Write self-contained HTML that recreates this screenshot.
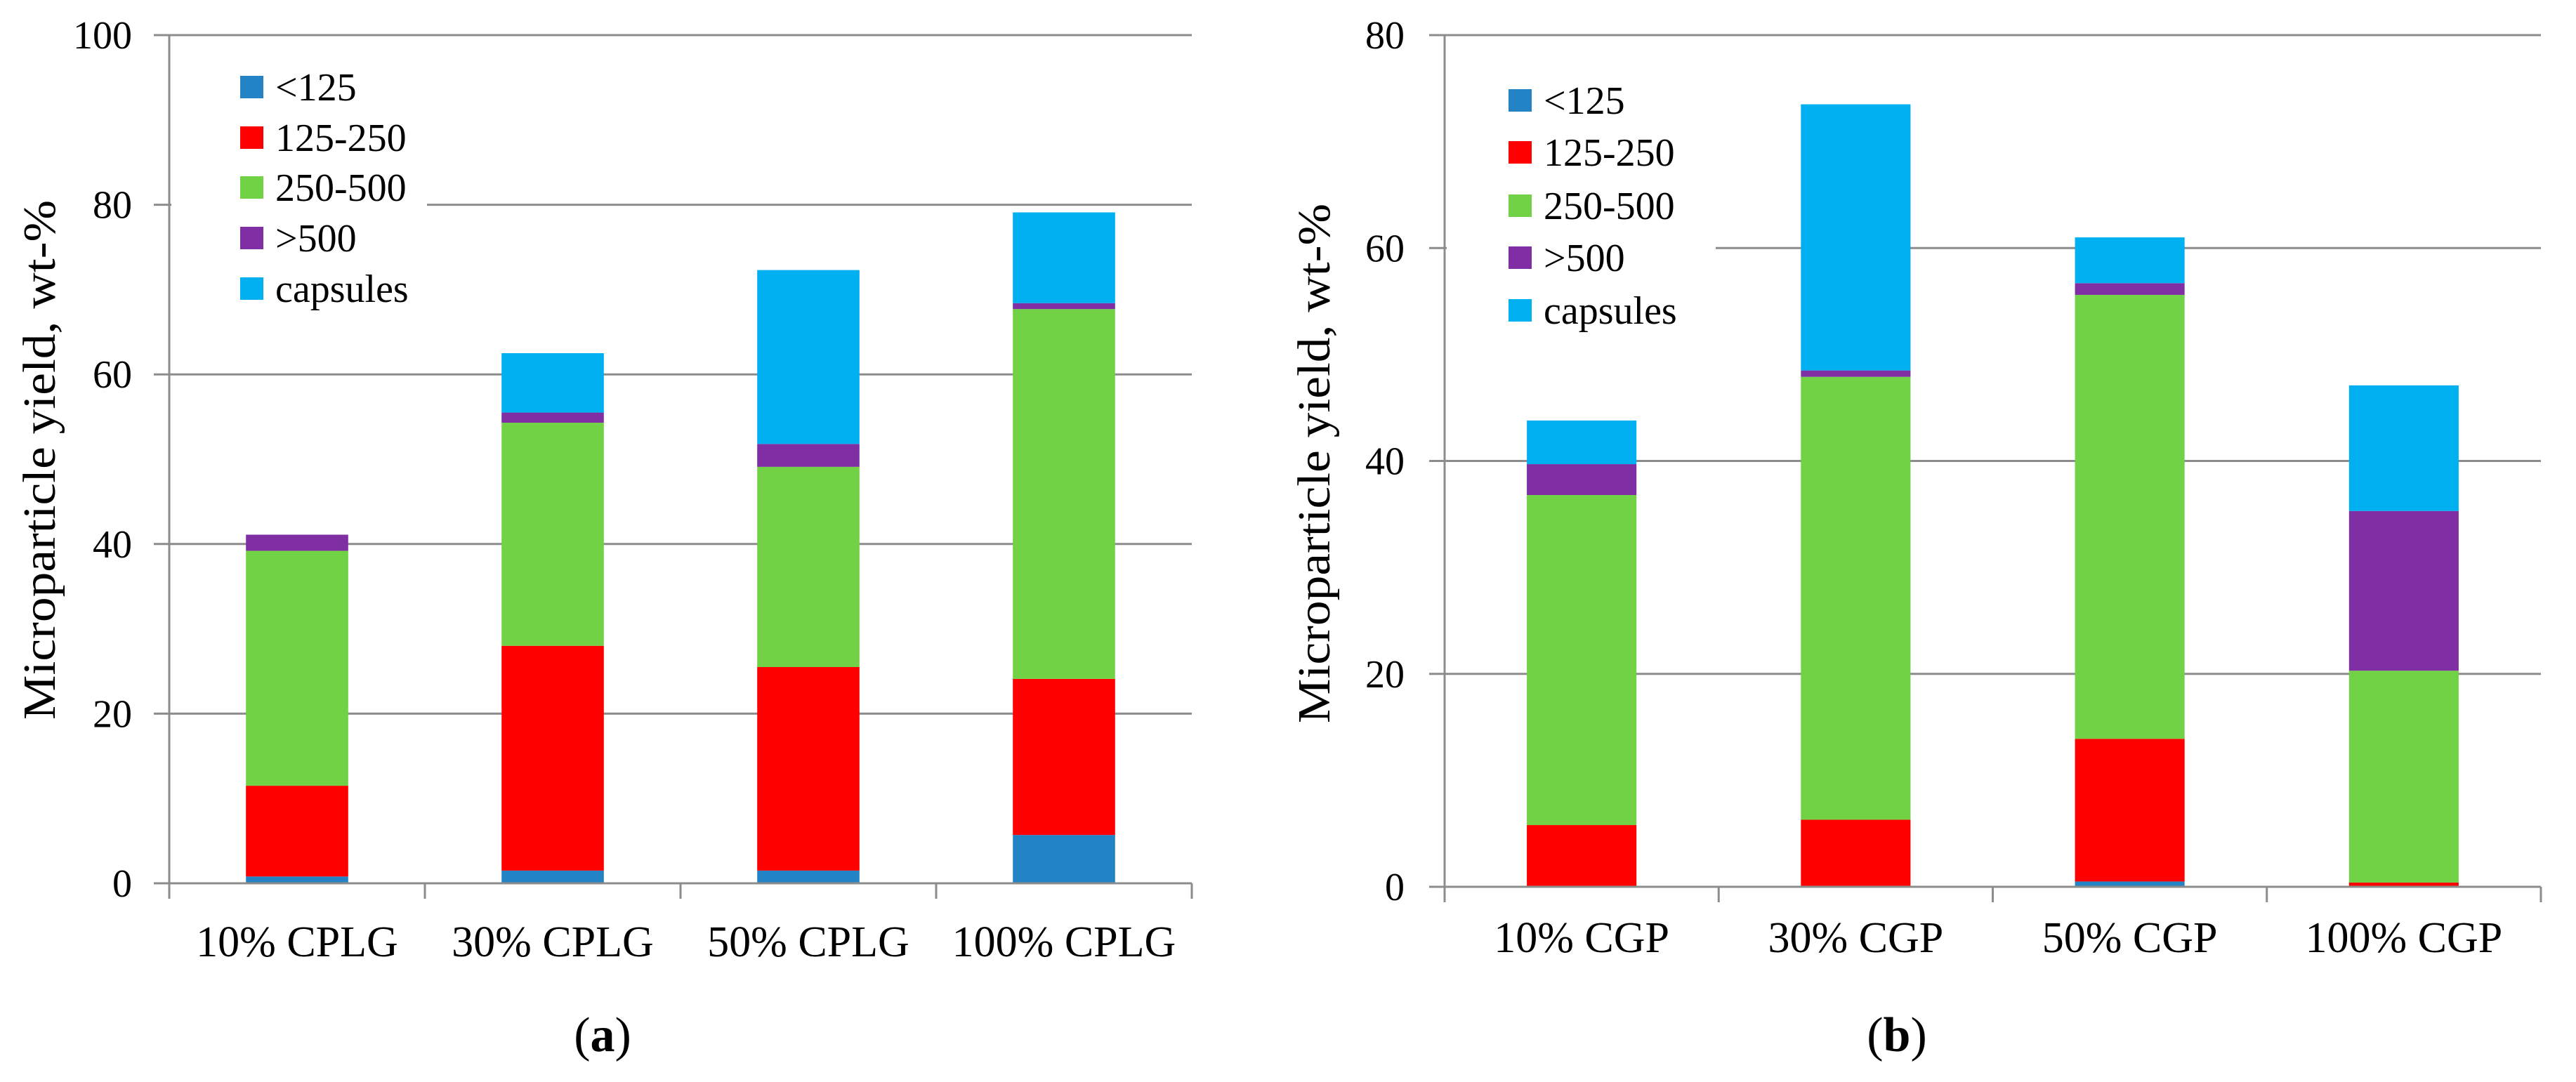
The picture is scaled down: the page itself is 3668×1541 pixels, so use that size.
<!DOCTYPE html>
<html><head><meta charset="utf-8"><style>
html,body{margin:0;padding:0;background:#fff;}
svg{display:block;}
svg text{font-family:"Liberation Serif","DejaVu Serif",serif;fill:#000;}
</style></head><body>
<svg id="fig" width="3668" height="1541" viewBox="0 0 3668 1541" xmlns="http://www.w3.org/2000/svg" font-family="'Liberation Serif', 'DejaVu Serif', serif"></svg>
<script>
const seriesNames = ["<125", "125-250", "250-500", ">500", "capsules"];
const seriesColors = ["#2383c4", "#ff0000", "#70d244", "#7f2fa3", "#00b0f0"];
const catsA = ["10% CPLG", "30% CPLG", "50% CPLG", "100% CPLG"];
const lt125A = [0.8, 1.5, 1.5, 5.7];
const s125A = [10.7, 26.5, 24.0, 18.4];
const s250A = [27.7, 26.3, 23.6, 43.6];
const gt500A = [1.9, 1.2, 2.7, 0.7];
const capsA = [0, 7.0, 20.5, 10.7];
const ticksA = [0, 20, 40, 60, 80, 100];
const catsB = ["10% CGP", "30% CGP", "50% CGP", "100% CGP"];
const lt125B = [0, 0, 0.5, 0];
const s125B = [5.8, 6.3, 13.4, 0.4];
const s250B = [31.0, 41.6, 41.7, 19.9];
const gt500B = [2.9, 0.6, 1.1, 15.0];
const capsB = [4.1, 25.0, 4.3, 11.8];
const ticksB = [0, 20, 40, 60, 80];

const NS = "http://www.w3.org/2000/svg";
const FF = "'Liberation Serif', 'DejaVu Serif', serif";
const svg = document.getElementById('fig');
function mk(tag, attrs, parent) {
  const e = document.createElementNS(NS, tag);
  for (const k in attrs) e.setAttribute(k, attrs[k]);
  if (tag === 'text') { e.setAttribute('font-family', FF); e.style.fontFamily = FF; }
  (parent || svg).appendChild(e);
  return e;
}
function drawChart(cfg) {
  const g = mk('g', {});
  
  
  const yMax = cfg.ticks[cfg.ticks.length - 1];
  const y = v => cfg.y0 - (v / yMax) * (cfg.y0 - cfg.yTop);
  const catW = (cfg.x1 - cfg.x0) / cfg.cats.length;
  const xc = i => cfg.x0 + catW * (i + 0.5);
  cfg.ticks.forEach(t => {
    const l = mk('line', {x1: cfg.x0 - 22, x2: cfg.x1, y1: y(t), y2: y(t), stroke: '#8c8c8c', 'stroke-width': 3}, g);
    
    
    const tx = mk('text', {x: cfg.tickX, y: y(t) + 19, 'font-size': 56, 'text-anchor': 'end'}, g);
    tx.textContent = t;
    
    
  });
  const series = cfg.series;
  cfg.cats.forEach((c, i) => {
    let acc = 0;
    series.forEach((s, k) => {
      const v = s[i];
      if (v > 0) {
        const r = mk('rect', {x: xc(i) - catW * 0.2, width: catW * 0.4, y: y(acc + v), height: y(acc) - y(acc + v), fill: seriesColors[k]}, g);
        
        
      }
      acc += v;
    });
    const lab = mk('text', {x: xc(i), y: cfg.labY, 'font-size': 62, 'text-anchor': 'middle'}, g);
    lab.textContent = c;
    
    
  });
  const ax = mk('line', {x1: cfg.x0, x2: cfg.x0, y1: cfg.yTop, y2: cfg.y0 + 22, stroke: '#8c8c8c', 'stroke-width': 3}, g);
  
  
  const bx = mk('line', {x1: cfg.x0 - 22, x2: cfg.x1, y1: cfg.y0, y2: cfg.y0, stroke: '#8c8c8c', 'stroke-width': 3}, g);
  
  
  for (let i = 0; i <= cfg.cats.length; i++) {
    const tk = mk('line', {x1: cfg.x0 + catW * i, x2: cfg.x0 + catW * i, y1: cfg.y0, y2: cfg.y0 + 22, stroke: '#8c8c8c', 'stroke-width': 3}, g);
    
    
  }
  const lg = mk('g', {}, g);
  
  
  mk('rect', {x: cfg.x0 + 3, y: cfg.legRows[0] - 40, width: cfg.legRight - cfg.x0 - 3, height: cfg.legRows[4] - cfg.legRows[0] + 80, fill: '#fff'}, lg);
  seriesNames.forEach((n, k) => {
    const sq = mk('rect', {x: cfg.legX, y: cfg.legRows[k] - 16, width: 33, height: 32, fill: seriesColors[k]}, lg);
    
    
    const t = mk('text', {x: cfg.legX + 50, y: cfg.legRows[k] + 19, 'font-size': 56}, lg);
    t.textContent = n;
    
    
  });
  const tt = mk('text', {x: 0, y: 0, 'font-size': 66, 'text-anchor': 'middle', transform: `translate(${cfg.titleX},${cfg.titleY}) rotate(-90)`, textLength: 740, lengthAdjust: 'spacingAndGlyphs'}, g);
  tt.textContent = 'Microparticle yield, wt-%';
  
  
  const cap = mk('text', {x: cfg.capX, y: 1497, 'font-size': 70, 'text-anchor': 'middle'}, g);
  cap.innerHTML = '(<tspan font-weight="bold">' + cfg.cap + '</tspan>)';
  
  
}
drawChart({name: 'chart-a', cats: catsA, series: [lt125A, s125A, s250A, gt500A, capsA], ticks: ticksA,
  x0: 241, x1: 1697, yTop: 50, y0: 1258, tickX: 188, labY: 1362,
  legX: 342, legRows: [124, 196, 267, 339, 411], legRight: 608, titleX: 78, titleY: 655, capX: 858, cap: 'a'});
drawChart({name: 'chart-b', cats: catsB, series: [lt125B, s125B, s250B, gt500B, capsB], ticks: ticksB,
  x0: 2057, x1: 3618, yTop: 50, y0: 1263, tickX: 2000, labY: 1356,
  legX: 2148, legRows: [143, 217, 293, 367, 442], legRight: 2443, titleX: 1893, titleY: 660, capX: 2701, cap: 'b'});
</script>
</body></html>
